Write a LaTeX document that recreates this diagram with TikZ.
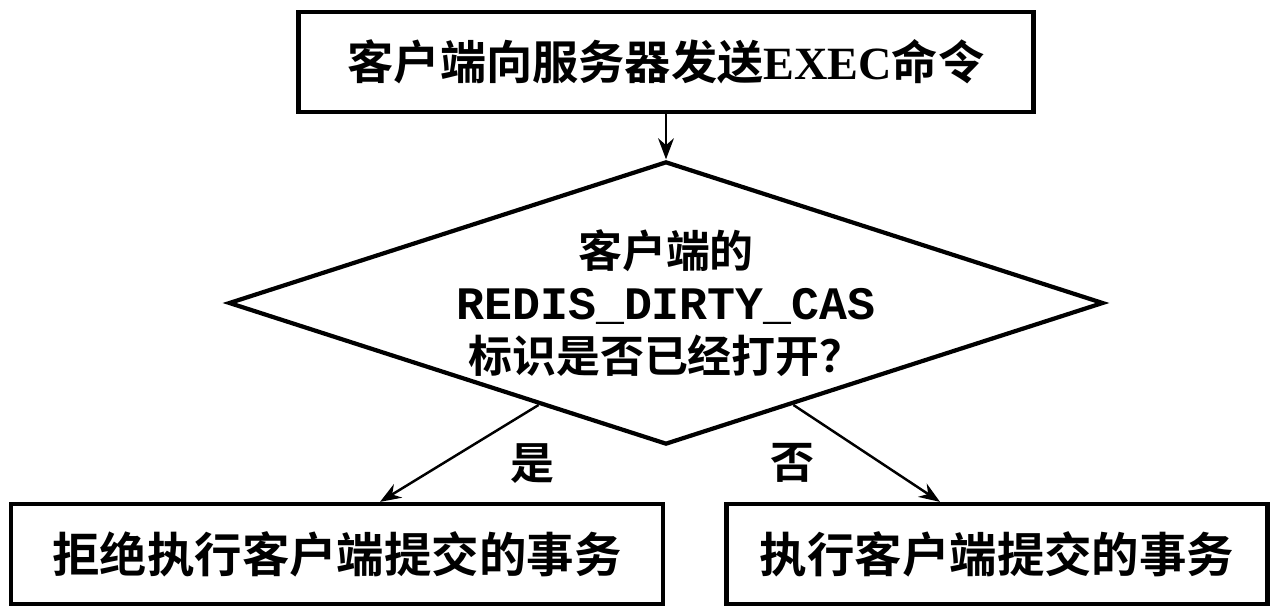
\documentclass[tikz,border=0pt]{standalone}
\usepackage{fontspec}
\usetikzlibrary{positioning, arrows.meta, shapes.geometric, calc}
\newfontfamily\cjk{Noto Sans CJK SC}[BoldFont=* Bold]
\newfontfamily\latinserif{Liberation Serif}
\newfontfamily\redismono{Liberation Mono}

\begin{document}
\begin{tikzpicture}[x=0.2mm, y=-0.2mm,
    box/.style={draw, line width=2.4pt, minimum height=2cm, inner sep=0pt,
      font=\cjk\bfseries\fontsize{27}{33}\selectfont},
    test/.style={draw, diamond, line width=2.4pt, aspect=3.09, inner sep=0pt,
      minimum width=17.3cm, minimum height=5.6cm, align=center,
      font=\cjk\bfseries\fontsize{25}{30}\selectfont},
    flow/.style={-{Stealth[length=12pt, width=9pt]}, line width=1.4pt},
    lbl/.style={font=\cjk\bfseries\fontsize{25}{30}\selectfont}]
  \useasboundingbox (0,0) rectangle (1280,610);

  \node[box, minimum width=14.7cm, font=\cjk\bfseries\fontsize{26.3}{32}\selectfont] (send) at (666,62)
    {客户端向服务器发送{\latinserif\bfseries EXEC}命令};
  \node[test] (dirty) at (666,303)
    {客户端的\\{\redismono\bfseries\fontsize{26.5}{30}\selectfont REDIS\_DIRTY\_CAS}\\标识是否已经打开？};
  \node[box, minimum width=13.04cm] (reject) at (337,554) {拒绝执行客户端提交的事务};
  \node[box, minimum width=10.82cm] (run) at (997,554) {执行客户端提交的事务};

  % flow
  \draw[flow] (send) -- (dirty);
  \draw[flow] ($(dirty.west)!0.71!(dirty.south)$) -- ($(reject.north)+(43,0)$)
    node[lbl, pos=0.6, right=1.2cm] {是};
  \draw[flow] ($(dirty.south)!0.29!(dirty.east)$) -- ($(run.north)+(-57,0)$)
    node[lbl, pos=0.6, left=1.2cm] {否};
\end{tikzpicture}
\end{document}
